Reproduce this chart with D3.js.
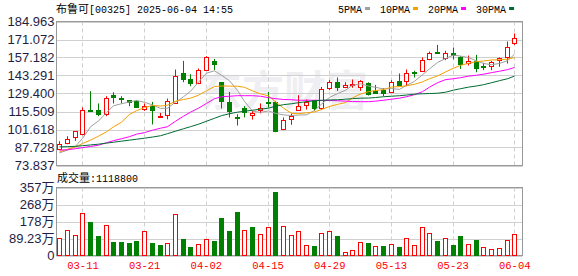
<!DOCTYPE html>
<html>
<head>
<meta charset="utf-8">
<script src="https://cdn.jsdelivr.net/npm/d3@7"></script>
<style>
  html, body { margin: 0; padding: 0; background: #fff; }
  svg { display: block; }
  .mono { font-family: "Liberation Mono", "DejaVu Sans Mono", monospace; }
  .cjk { font-family: "Noto Sans CJK SC", sans-serif; }
</style>
</head>
<body>
<div id="chart"></div>
<script>
// ---- data ----
const dates = [
  '03-06', '03-07', '03-10', '03-11', '03-12', '03-13', '03-14', '03-17', '03-18', '03-19',
  '03-20', '03-21', '03-24', '03-25', '03-26', '03-27', '03-28', '03-31', '04-01', '04-02',
  '04-03', '04-07', '04-08', '04-09', '04-10', '04-11', '04-14', '04-15', '04-16', '04-17',
  '04-22', '04-23', '04-24', '04-25', '04-28', '04-29', '04-30', '05-02', '05-06', '05-07',
  '05-08', '05-09', '05-12', '05-13', '05-14', '05-15', '05-16', '05-19', '05-20', '05-21',
  '05-22', '05-23', '05-26', '05-27', '05-28', '05-29', '05-30', '06-02', '06-03', '06-04',
];
const open = [
  86.96, 91.28, 95.45, 98.53, 116.7, 116.5, 113.97, 128.32, 126.3, 124.23,
  123.23, 117.52, 119.6, 111.1, 112.42, 122.15, 144.84, 140.67, 137.12, 147.9,
  154.1, 138.1, 123.2, 111.1, 118.05, 112.9, 116.5, 122.69, 123.2, 101.6,
  109.3, 117.0, 120.6, 124.2, 118.05, 133.5, 138.66, 134.8, 135.6, 134.5,
  137.6, 131.4, 131.95, 130.4, 139.1, 138.66, 146.1, 146.9, 155.66, 161.8,
  156.6, 160.3, 157.2, 152.55, 154.1, 150.7, 150.5, 155.1, 157.2, 168.99,
];
const high = [
  92.6, 96.45, 100.08, 118.6, 131.2, 121.7, 127.3, 130.3, 127.3, 124.3,
  124.2, 121.7, 122.9, 114.4, 125.5, 147.9, 154.56, 144.3, 148.7, 158.2,
  156.1, 138.3, 130.6, 113.4, 119.6, 116.0, 121.7, 130.6, 123.5, 110.9,
  114.0, 128.1, 124.8, 124.3, 134.5, 139.7, 141.75, 138.1, 140.2, 139.7,
  138.1, 136.0, 133.5, 139.7, 144.84, 147.9, 146.9, 157.2, 161.8, 166.9,
  162.3, 164.9, 158.2, 158.7, 159.2, 153.0, 154.6, 157.2, 169.5, 175.7,
];
const low = [
  85.65, 90.28, 92.82, 97.22, 115.2, 111.9, 111.9, 121.7, 121.7, 119.6,
  118.6, 116.0, 105.5, 110.9, 109.5, 121.7, 138.1, 135.0, 136.6, 147.4,
  147.4, 117.8, 110.9, 104.7, 110.9, 109.3, 114.0, 118.6, 99.55, 101.1,
  105.2, 116.5, 117.0, 116.0, 117.0, 131.95, 131.4, 133.5, 133.8, 131.4,
  127.8, 129.4, 127.3, 129.9, 135.0, 135.0, 141.75, 146.9, 155.1, 160.3,
  155.1, 155.7, 148.4, 151.0, 145.8, 147.4, 147.4, 150.0, 152.55, 166.9,
];
const close = [
  90.8, 94.67, 100.08, 117.05, 115.9, 113.45, 126.3, 126.78, 125.2, 122.92,
  118.6, 119.6, 116.5, 111.9, 123.23, 142.75, 140.2, 137.58, 147.4, 157.65,
  151.5, 123.2, 116.0, 110.6, 115.0, 114.4, 118.05, 122.15, 101.1, 108.8,
  111.9, 120.1, 122.7, 118.05, 133.0, 138.1, 134.5, 136.0, 136.6, 139.1,
  129.4, 129.9, 129.4, 138.1, 136.0, 144.84, 145.6, 155.1, 160.3, 160.7,
  160.3, 158.7, 151.5, 154.1, 148.4, 150.2, 153.6, 156.6, 164.9, 172.6,
];
const ma5 = [
  83.6, 85.7, 88.7, 94.7, 103.7, 108.2, 114.6, 119.9, 121.5, 122.9,
  124.0, 122.6, 120.6, 117.9, 118.0, 122.8, 126.9, 131.1, 138.2, 145.1,
  146.9, 143.5, 139.2, 131.8, 123.3, 115.8, 114.8, 116.0, 114.1, 112.9,
  112.4, 112.8, 112.9, 116.3, 121.2, 126.4, 129.3, 131.9, 135.6, 136.9,
  135.1, 134.2, 132.9, 133.2, 132.6, 135.6, 138.8, 143.9, 148.4, 153.3,
  156.4, 159.0, 158.3, 157.1, 154.6, 152.6, 151.6, 152.6, 154.7, 159.6,
];
const ma10 = [
  84.3, 86.4, 88.2, 90.8, 93.4, 96.5, 99.8, 103.6, 107.3, 113.3,
  116.1, 118.6, 120.2, 119.7, 120.4, 123.4, 124.8, 125.8, 128.1, 131.5,
  134.8, 135.2, 135.1, 135.0, 134.2, 131.4, 129.1, 127.6, 123.0, 118.1,
  114.1, 113.8, 114.5, 115.2, 117.0, 119.4, 121.0, 122.4, 126.0, 129.0,
  130.8, 131.7, 132.4, 134.4, 134.7, 135.4, 136.5, 138.4, 140.8, 142.9,
  146.0, 148.9, 151.1, 152.7, 154.0, 154.5, 155.3, 155.4, 155.9, 157.1,
];
const ma20 = [
  85.7, 86.0, 86.8, 87.6, 88.5, 89.5, 91.4, 93.0, 94.5, 96.1,
  98.0, 99.2, 101.1, 102.6, 103.8, 108.0, 111.9, 115.0, 118.1, 121.7,
  125.4, 126.9, 127.3, 127.7, 127.7, 127.7, 127.3, 126.2, 125.4, 124.8,
  124.6, 124.2, 124.2, 124.2, 124.0, 124.0, 123.8, 123.5, 123.2, 123.1,
  123.1, 123.5, 124.2, 125.0, 125.8, 126.9, 128.5, 130.8, 134.3, 137.7,
  140.1, 140.8, 141.6, 142.8, 143.5, 144.3, 145.5, 146.6, 147.8, 149.5,
];
const ma30 = [
  88.2, 88.4, 88.6, 89.1, 89.7, 90.3, 91.1, 91.8, 92.6, 93.4,
  94.1, 94.9, 95.8, 96.8, 98.4, 100.3, 102.2, 103.8, 105.7, 108.0,
  110.3, 112.3, 113.8, 115.0, 115.7, 116.5, 117.3, 118.1, 119.6, 120.8,
  121.5, 122.3, 123.1, 123.8, 124.2, 124.4, 124.6, 125.0, 125.4, 125.8,
  125.9, 126.3, 126.9, 127.3, 127.7, 128.2, 128.9, 129.2, 129.4, 129.6,
  130.4, 132.0, 133.1, 134.3, 135.2, 136.2, 137.7, 139.3, 140.8, 142.8,
];
const volume = [
  925000, 1343000, 1082000, 2231000, 1777000, 1045000, 1604000, 732000, 732000, 679000,
  784000, 1291000, 679000, 575000, 664000, 2179000, 888000, 470000, 611000, 873000,
  784000, 1986000, 1306000, 2299000, 1343000, 1515000, 1134000, 1515000, 3345000, 1568000,
  1082000, 1306000, 575000, 523000, 1186000, 1306000, 1045000, 209000, 314000, 732000,
  679000, 523000, 523000, 611000, 470000, 925000, 575000, 1515000, 1202000, 784000,
  925000, 575000, 1045000, 627000, 836000, 470000, 366000, 418000, 836000, 1118800,
];
// 1 = red (up) volume bar, 0 = green
const volumeUp = [
  1, 1, 1, 1, 0, 0, 1, 0, 0, 0,
  0, 1, 0, 0, 1, 1, 0, 0, 1, 1,
  0, 0, 0, 0, 1, 0, 1, 1, 0, 1,
  1, 1, 1, 0, 1, 1, 0, 1, 1, 1,
  0, 1, 0, 1, 0, 1, 1, 1, 1, 0,
  1, 0, 0, 1, 0, 1, 1, 1, 1, 1,
];
const priceTicks = ['184.963', '171.072', '157.182', '143.291', '129.400', '115.509', '101.618', '87.728', '73.837'];
const volumeTicks = [0, 892300, 1784600, 2676900, 3569200];
const volumeTickLabels = ['0', '89.23万', '178万', '268万', '357万'];
const dateTicks = ['03-11', '03-21', '04-02', '04-15', '04-29', '05-13', '05-23', '06-04'];
const maNames = ['5PMA', '10PMA', '20PMA', '30PMA'];

// ---- layout ----
const width = 578;
const height = 276;
const plot = { left: 56.5, right: 522.5 };
const pricePanel = { top: 21.5, bottom: 165.5 };
const volumePanel = { top: 187.5, bottom: 255.5 };

const RED = '#ff0000';
const GREEN = '#008000';
const GRID = '#d0d0d0';
const FRAME = '#999999';
const LABEL = '#1e1e46';
const maColors = ['#a0a0a0', '#f5a000', '#ff00ff', '#006b33'];

const svg = d3
  .select('#chart')
  .append('svg')
  .attr('width', width)
  .attr('height', height);

const x = d3
  .scaleBand()
  .domain(dates)
  .range([56, 56 + dates.length * 7.71])
  .paddingInner(0.35)
  .paddingOuter(0.175);
const cx = d => Math.floor(x(d) + x.bandwidth() / 2) + 0.5;

const yPrice = d3
  .scaleLinear()
  .domain([+priceTicks[priceTicks.length - 1], +priceTicks[0]])
  .range([pricePanel.bottom, pricePanel.top]);
const yVol = d3
  .scaleLinear()
  .domain([0, volumeTicks[volumeTicks.length - 1]])
  .range([volumePanel.bottom, volumePanel.top]);

// watermark
svg
  .append('text')
  .attr('class', 'cjk')
  .attr('x', 200)
  .attr('y', 106)
  .attr('font-size', 42)
  .attr('font-weight', 700)
  .attr('fill', '#efeff3')
  .text('东方财富');

// horizontal grid
svg
  .selectAll('line.pgrid')
  .data(priceTicks)
  .enter()
  .append('line')
  .attr('class', 'pgrid')
  .attr('x1', plot.left)
  .attr('x2', plot.right)
  .attr('y1', d => Math.round(yPrice(+d)) + 0.5)
  .attr('y2', d => Math.round(yPrice(+d)) + 0.5)
  .attr('stroke', GRID);

svg
  .selectAll('line.vgrid')
  .data(volumeTicks)
  .enter()
  .append('line')
  .attr('class', 'vgrid')
  .attr('x1', plot.left)
  .attr('x2', plot.right)
  .attr('y1', d => Math.round(yVol(d)) + 0.5)
  .attr('y2', d => Math.round(yVol(d)) + 0.5)
  .attr('stroke', GRID);

// vertical dashed grid on date ticks
[pricePanel, volumePanel].forEach(panel => {
  svg
    .append('g')
    .selectAll('line')
    .data(dateTicks)
    .enter()
    .append('line')
    .attr('x1', cx)
    .attr('x2', cx)
    .attr('y1', panel.top)
    .attr('y2', panel.bottom)
    .attr('stroke', GRID)
    .attr('stroke-dasharray', '4,3');
});

// frames
[pricePanel, volumePanel].forEach(panel => {
  svg
    .append('rect')
    .attr('x', plot.left)
    .attr('y', panel.top)
    .attr('width', plot.right - plot.left)
    .attr('height', panel.bottom - panel.top)
    .attr('fill', 'none')
    .attr('stroke', FRAME);
});

// candles
const candles = dates.map((d, i) => ({
  date: d,
  o: open[i],
  h: high[i],
  l: low[i],
  c: close[i],
}));
const candle = svg.append('g').selectAll('g').data(candles).enter().append('g');
candle
  .append('line')
  .attr('x1', d => cx(d.date))
  .attr('x2', d => cx(d.date))
  .attr('y1', d => yPrice(d.h))
  .attr('y2', d => yPrice(d.l))
  .attr('stroke', d => (d.c > d.o ? RED : GREEN));
candle
  .append('rect')
  .attr('x', d => cx(d.date) - 2)
  .attr('width', 4)
  .attr('y', d => Math.round(yPrice(Math.max(d.o, d.c))) + 0.5)
  .attr('height', d => Math.max(1, Math.round(Math.abs(yPrice(d.o) - yPrice(d.c)))))
  .attr('fill', d => (d.c > d.o ? '#fff' : GREEN))
  .attr('stroke', d => (d.c > d.o ? RED : GREEN));

// moving averages
[ma5, ma10, ma20, ma30].forEach((series, k) => {
  const line = d3
    .line()
    .x((v, i) => cx(dates[i]))
    .y(v => yPrice(v));
  svg
    .append('path')
    .datum(series)
    .attr('d', line)
    .attr('fill', 'none')
    .attr('stroke', maColors[k])
    .attr('stroke-width', 1);
});

// volume bars
svg
  .append('g')
  .selectAll('rect')
  .data(volume)
  .enter()
  .append('rect')
  .attr('x', (v, i) => cx(dates[i]) - 2)
  .attr('width', 4)
  .attr('y', v => Math.round(yVol(v)) + 0.5)
  .attr('height', v => volumePanel.bottom - (Math.round(yVol(v)) + 0.5))
  .attr('fill', (v, i) => (volumeUp[i] ? '#fff' : GREEN))
  .attr('stroke', (v, i) => (volumeUp[i] ? RED : GREEN));

// y axes
const yAxisPrice = svg
  .append('g')
  .attr('transform', `translate(${plot.left - 2},0)`)
  .call(
    d3
      .axisLeft(yPrice)
      .tickValues(priceTicks.map(Number))
      .tickFormat((d, i) => priceTicks[i])
      .tickSize(0)
  );
const yAxisVol = svg
  .append('g')
  .attr('transform', `translate(${plot.left - 2},0)`)
  .call(
    d3
      .axisLeft(yVol)
      .tickValues(volumeTicks)
      .tickFormat((d, i) => volumeTickLabels[i])
      .tickSize(0)
  );
[yAxisPrice, yAxisVol].forEach(axis => {
  axis.select('.domain').remove();
  axis
    .selectAll('text')
    .attr('x', 0)
    .attr('fill', LABEL)
    .attr('font-size', 13)
    .attr('font-family', '"Liberation Sans", Arial, "Noto Sans CJK SC", sans-serif');
});

// x axis
const xAxis = svg
  .append('g')
  .attr('transform', `translate(0,${volumePanel.bottom + 3})`)
  .call(d3.axisBottom(x).tickValues(dateTicks).tickSize(0));
xAxis.select('.domain').remove();
xAxis
  .selectAll('text')
  .attr('fill', RED)
  .attr('font-size', 10.5)
  .attr('font-family', '"Liberation Mono", monospace');

// title
const title = svg.append('text').attr('x', 56).attr('y', 13).attr('fill', '#000');
title.append('tspan').attr('class', 'cjk').attr('font-size', 11).text('布鲁可');
title.append('tspan').attr('class', 'mono').attr('font-size', 10).text('[00325] 2025-06-04 14:55');

// legend
let lx = 338;
maNames.forEach((name, k) => {
  const t = svg
    .append('text')
    .attr('class', 'mono')
    .attr('x', lx)
    .attr('y', 13)
    .attr('font-size', 10)
    .attr('fill', '#000')
    .text(name);
  const w = t.node().getComputedTextLength();
  svg
    .append('rect')
    .attr('x', lx + w + 3)
    .attr('y', 7)
    .attr('width', 5)
    .attr('height', 3)
    .attr('fill', maColors[k]);
  lx += w + 18;
});

// volume caption
const vcap = svg.append('text').attr('x', 57).attr('y', 182).attr('fill', '#000');
vcap.append('tspan').attr('class', 'cjk').attr('font-size', 11).text('成交量');
vcap.append('tspan').attr('class', 'mono').attr('font-size', 10).text(':' + volume[volume.length - 1]);
</script>
</body>
</html>
